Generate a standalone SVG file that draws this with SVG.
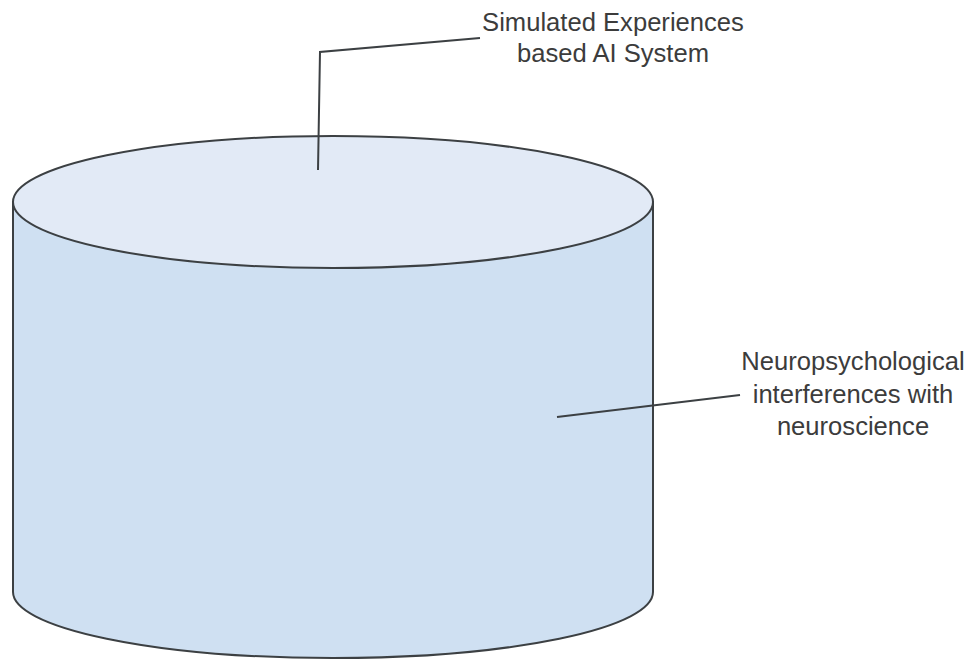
<svg xmlns="http://www.w3.org/2000/svg" width="972" height="660" viewBox="0 0 972 660">
<style>
.outline{stroke:#3c4043;stroke-width:2;}
.lead{fill:none;stroke:#3c4043;stroke-width:2;}
.lbl{font-family:"Liberation Sans",Arial,sans-serif;font-size:25.6px;fill:#3c3c3c;text-anchor:middle;}
</style>
<rect width="972" height="660" fill="#ffffff"/>
<g id="cylinder">
<path class="outline" d="M13,202 L13,592 A320,66 0 0 0 653,592 L653,202 Z" fill="#cfe0f2"/>
<ellipse class="outline" cx="333" cy="202" rx="320" ry="66" fill="#e2eaf6"/>
</g>
<g id="connectors">
<polyline class="lead" points="318,170 320,52 480,38"/>
<line class="lead" x1="557" y1="417" x2="740" y2="395"/>
</g>
<g id="label-top">
<text class="lbl" x="613" y="31">Simulated Experiences</text>
<text class="lbl" x="613" y="62">based AI System</text>
</g>
<g id="label-right">
<text class="lbl" x="853" y="370">Neuropsychological</text>
<text class="lbl" x="853" y="403">interferences with</text>
<text class="lbl" x="853" y="435">neuroscience</text>
</g>
</svg>
